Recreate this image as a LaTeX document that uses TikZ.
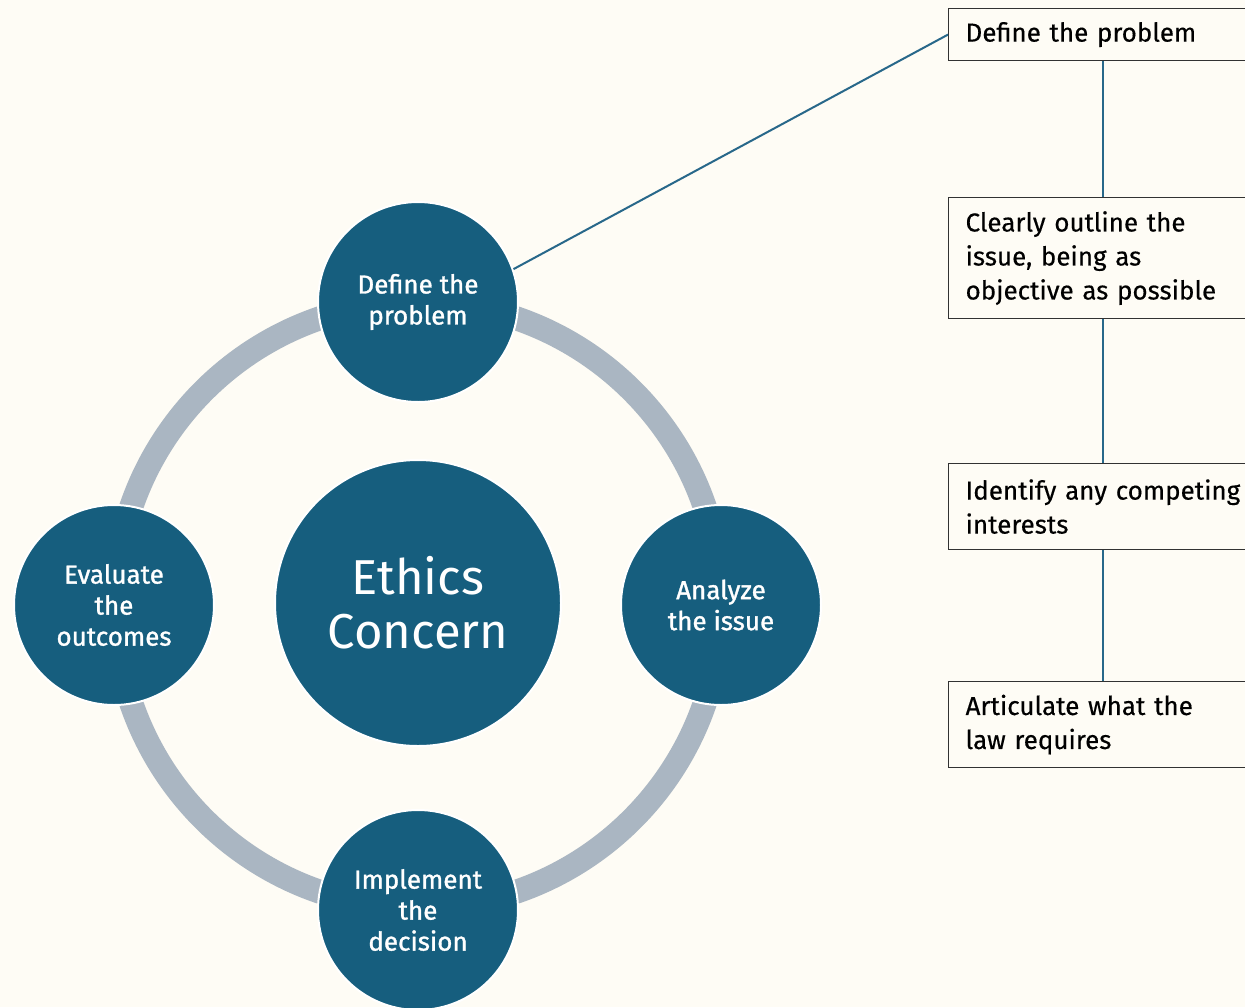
\documentclass[tikz,border=0pt]{standalone}
\usepackage{fontspec}
\setmainfont{Fira Sans}
\newfontfamily\circfont[FakeBold=1.2]{Fira Sans}
\newfontfamily\boxfont[FakeBold=0.4]{Fira Sans}
\definecolor{bgcream}{RGB}{254,252,245}
\definecolor{circblue}{RGB}{22,94,126}
\definecolor{ringgray}{RGB}{170,182,194}
\definecolor{connblue}{RGB}{40,104,138}
\definecolor{boxline}{RGB}{50,50,50}
\begin{document}
\begin{tikzpicture}[x=1pt,y=-1pt,
  stepcirc/.style={circle, fill=circblue, draw=white, line width=2pt, minimum size=200pt, inner sep=0pt,
    text=white, align=center, font=\circfont\fontsize{26}{31}\selectfont},
  bigcirc/.style={circle, fill=circblue, draw=white, line width=2pt, minimum size=286pt, inner sep=0pt,
    text=white, align=center, font=\fontsize{49}{54}\selectfont},
  stepbox/.style={rectangle, draw=boxline, line width=1.2pt, fill=bgcream, anchor=north west,
    text width=300pt, inner xsep=17pt, inner ysep=0pt, align=left, text=black,
    font=\boxfont\fontsize{26}{34}\selectfont},
  conn/.style={draw=connblue, line width=2pt}]
\useasboundingbox (0,0) rectangle (1245,1007);
\clip (0,0) rectangle (1245,1007);
\fill[bgcream] (0,0) rectangle (1245,1007);
% ring
\draw[ringgray, line width=24pt] (418,605) circle[radius=303];
% circles
\node[bigcirc] (ec) at (418,603) {Ethics\\Concern};
\node[stepcirc] (c1) at (418,302) {Define the\\problem};
\node[stepcirc] (c2) at (721,605) {Analyze\\the issue};
\node[stepcirc] (c3) at (418,910) {Implement\\the\\decision};
\node[stepcirc] (c4) at (114,605) {Evaluate\\the\\outcomes};
% boxes
\node[stepbox, minimum height=52pt] (b1) at (948,8) {Define the problem};
\node[stepbox, minimum height=121pt] (b2) at (948,197) {Clearly outline the\\issue, being as\\objective as possible};
\node[stepbox, minimum height=86pt] (b3) at (948,463) {Identify any competing\\interests};
\node[stepbox, minimum height=86pt] (b4) at (948,681) {Articulate what the\\law requires};
% connectors
\coordinate (sp) at (1103,0);
\draw[conn] (c1.19) -- (b1.west);
\draw[conn] (b1.south -| sp) -- (b2.north -| sp);
\draw[conn] (b2.south -| sp) -- (b3.north -| sp);
\draw[conn] (b3.south -| sp) -- (b4.north -| sp);
\end{tikzpicture}
\end{document}
